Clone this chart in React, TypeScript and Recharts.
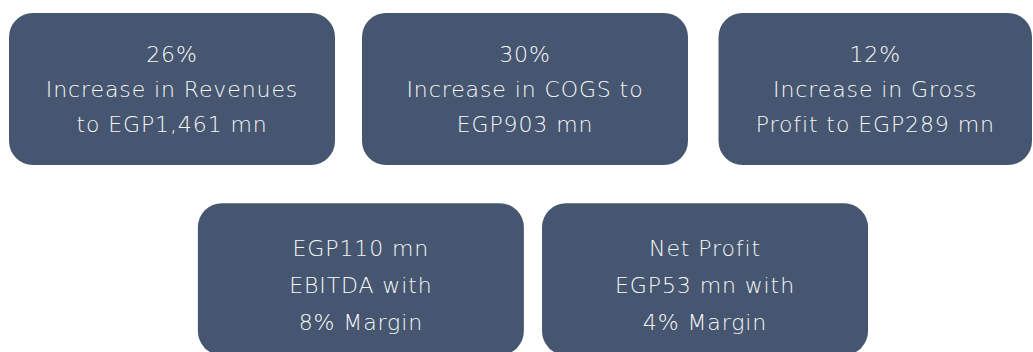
import { Scatter, ScatterChart, XAxis, YAxis } from 'recharts';

// Headline figures shown in each tile, top row then bottom row.
const lines1 = ['26%', 'Increase in Revenues', 'to EGP1,461 mn'];
const lines2 = ['30%', 'Increase in COGS to', 'EGP903 mn'];
const lines3 = ['12%', 'Increase in Gross', 'Profit to EGP289 mn'];
const lines4 = ['EGP110 mn', 'EBITDA with', '8% Margin'];
const lines5 = ['Net Profit', 'EGP53 mn with', '4% Margin'];

// Grid slot (column, row) for each tile.
const slotCols = [0, 1, 2.01, 0.535, 1.51];
const slotRows = [0, 0, 0, 1, 1];

const tiles = [lines1, lines2, lines3, lines4, lines5].map((lines, i) => ({
  col: slotCols[i],
  row: slotRows[i],
  lines,
}));

const W = 1033;
const H = 352;
const BOX_W = 326;
const BOX_H = 152;
const FILL = '#465670';

function Tile(props: any) {
  const { cx, cy, payload } = props;
  const x1 = cx - BOX_W / 2;
  const x2 = Math.min(cx + BOX_W / 2, W - 1);
  const y1 = cy - BOX_H / 2;
  const bottomRow = payload.row === 1;
  const gap = bottomRow ? 37 : 35;
  const shift = bottomRow ? 6 : 0;
  return (
    <g>
      <rect x={x1} y={y1} width={x2 - x1} height={BOX_H} rx={24} ry={24} fill={FILL} />
      {payload.lines.map((t: string, i: number) => (
        <text
          key={i}
          x={(x1 + x2) / 2}
          y={cy + shift + (i - 1) * gap}
          textAnchor="middle"
          dominantBaseline="central"
          fill="#F7F7F7"
          fontSize={22}
          fontWeight={200}
          letterSpacing={0.9}
          fontFamily="'DejaVu Sans', sans-serif"
        >
          {t}
        </text>
      ))}
    </g>
  );
}

export default function App() {
  return (
    <div style={{ position: 'absolute', left: 0, top: 0, width: W, height: H, background: '#fff' }}>
      <ScatterChart width={W} height={H} margin={{ top: 0, right: 0, bottom: 0, left: 0 }}>
        <XAxis type="number" dataKey="col" domain={[-0.4873, 2.4391]} hide />
        <YAxis type="number" dataKey="row" domain={[-0.4681, 1.3830]} reversed hide />
        <Scatter data={tiles} shape={<Tile />} isAnimationActive={false} />
      </ScatterChart>
    </div>
  );
}
